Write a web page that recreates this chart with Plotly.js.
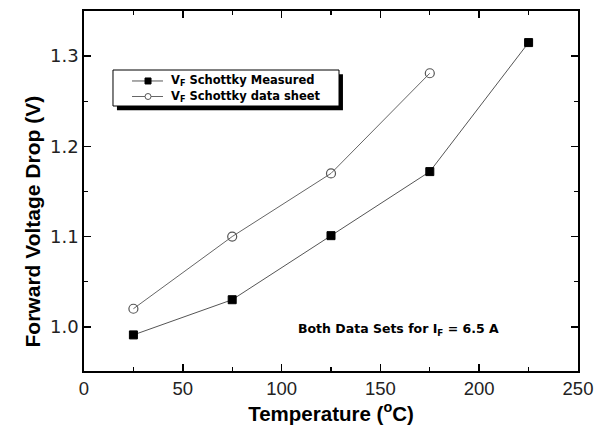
<!DOCTYPE html>
<html>
<head>
<meta charset="utf-8">
<script src="https://cdn.plot.ly/plotly-3.0.1.min.js"></script>
<style>html,body{margin:0;padding:0;background:#fff;}#chart{width:595px;height:430px;}</style>
</head>
<body>
<div id="chart"></div>
<script>
const tempMeasured = [25, 75, 125, 175, 225];
const vfMeasured = [0.991, 1.030, 1.101, 1.172, 1.315];
const tempSheet = [25, 75, 125, 175];
const vfSheet = [1.020, 1.100, 1.170, 1.281];
const xTicks = [0, 50, 100, 150, 200, 250];
const yTicks = [1.0, 1.1, 1.2, 1.3];
const yTickLabels = ['1.0', '1.1', '1.2', '1.3'];
const seriesNames = ['V<sub>F</sub> Schottky Measured', 'V<sub>F</sub> Schottky data sheet'];

const traces = [
  {
    x: tempMeasured, y: vfMeasured, type: 'scatter', mode: 'lines+markers',
    name: seriesNames[0], showlegend: false,
    line: {color: '#555', width: 1},
    marker: {symbol: 'square', size: 8, color: '#000', line: {color: '#000', width: 1}}
  },
  {
    x: tempSheet, y: vfSheet, type: 'scatter', mode: 'lines+markers',
    name: seriesNames[1], showlegend: false,
    line: {color: '#666', width: 1},
    marker: {symbol: 'circle-open', size: 9, color: '#555', line: {color: '#555', width: 1.2}}
  }
];

const axisCommon = {
  showgrid: false, zeroline: false, showline: true, linecolor: '#000', linewidth: 1.8,
  mirror: 'allticks', ticks: 'inside', ticklen: 7, tickwidth: 1.5, tickcolor: '#000'
};

// legend geometry in paper fractions
const lgX0 = 0.0587, lgX1 = 0.5162, lgY0 = 0.7361, lgY1 = 0.8361;
const rowY = [0.8056, 0.7625];
const symX0 = 0.0972, symX1 = 0.1599, symXc = 0.1296;
const txtX = 0.1721;
const mw = 6 / 494, mh = 6 / 360;

const shapes = [
  {type: 'rect', xref: 'paper', yref: 'paper', x0: lgX0 + 0.008, x1: lgX1 + 0.008, y0: lgY0 - 0.012, y1: lgY1 - 0.012,
   fillcolor: '#000', line: {width: 0}, layer: 'above'},
  {type: 'rect', xref: 'paper', yref: 'paper', x0: lgX0, x1: lgX1, y0: lgY0, y1: lgY1,
   fillcolor: '#fff', line: {color: '#000', width: 1}, layer: 'above'},
  {type: 'line', xref: 'paper', yref: 'paper', x0: symX0, x1: symX1, y0: rowY[0], y1: rowY[0],
   line: {color: '#555', width: 1}, layer: 'above'},
  {type: 'rect', xref: 'paper', yref: 'paper', x0: symXc - mw / 2, x1: symXc + mw / 2, y0: rowY[0] - mh / 2, y1: rowY[0] + mh / 2,
   fillcolor: '#000', line: {color: '#000', width: 1}, layer: 'above'},
  {type: 'line', xref: 'paper', yref: 'paper', x0: symX0, x1: symX1, y0: rowY[1], y1: rowY[1],
   line: {color: '#666', width: 1}, layer: 'above'},
  {type: 'circle', xref: 'paper', yref: 'paper', x0: symXc - mw / 2, x1: symXc + mw / 2, y0: rowY[1] - mh / 2, y1: rowY[1] + mh / 2,
   fillcolor: '#fff', line: {color: '#555', width: 1}, layer: 'above'}
];

const legendFont = {family: 'DejaVu Sans, sans-serif', size: 11.5, color: '#000'};

const layout = {
  width: 595, height: 430,
  margin: {l: 84, r: 17, t: 11, b: 59},
  paper_bgcolor: '#fff', plot_bgcolor: '#fff',
  showlegend: false,
  xaxis: Object.assign({}, axisCommon, {
    range: [0, 250], tickvals: xTicks,
    tickfont: {family: 'Liberation Sans, Arial, sans-serif', size: 18.5, color: '#222'},
    minor: {ticks: 'inside', ticklen: 4, tickwidth: 1.2, tickcolor: '#000', dtick: 25, tick0: 0},
    title: {text: '<b>Temperature (<sup>o</sup>C)</b>', font: {family: 'Liberation Sans, Arial, sans-serif', size: 20.5, color: '#000'}, standoff: 6}
  }),
  yaxis: Object.assign({}, axisCommon, {
    range: [0.951, 1.35], tickvals: yTicks, ticktext: yTickLabels,
    tickfont: {family: 'DejaVu Sans, sans-serif', size: 18, color: '#222'},
    minor: {ticks: 'inside', ticklen: 4, tickwidth: 1.2, tickcolor: '#000', dtick: 0.05, tick0: 0}
  }),
  shapes: shapes,
  annotations: [
    {x: -0.1296, y: 0.4167, xref: 'paper', yref: 'paper', showarrow: false, textangle: -90,
     text: '<b>Forward Voltage Drop (V)</b>',
     font: {family: 'Liberation Sans, Arial, sans-serif', size: 21, color: '#000'}},
    {x: txtX, y: rowY[0], xref: 'paper', yref: 'paper', xanchor: 'left', yanchor: 'middle', showarrow: false,
     text: '<b>' + seriesNames[0] + '</b>', font: legendFont},
    {x: txtX, y: rowY[1], xref: 'paper', yref: 'paper', xanchor: 'left', yanchor: 'middle', showarrow: false,
     text: '<b>' + seriesNames[1] + '</b>', font: legendFont},
    {x: 159, y: 0.997, xref: 'x', yref: 'y', showarrow: false,
     text: '<b>Both Data Sets for I<sub>F</sub> = 6.5 A</b>',
     font: {family: 'DejaVu Sans, sans-serif', size: 12.5, color: '#000'}}
  ]
};

Plotly.newPlot('chart', traces, layout, {displayModeBar: false, staticPlot: true});
</script>
</body>
</html>
